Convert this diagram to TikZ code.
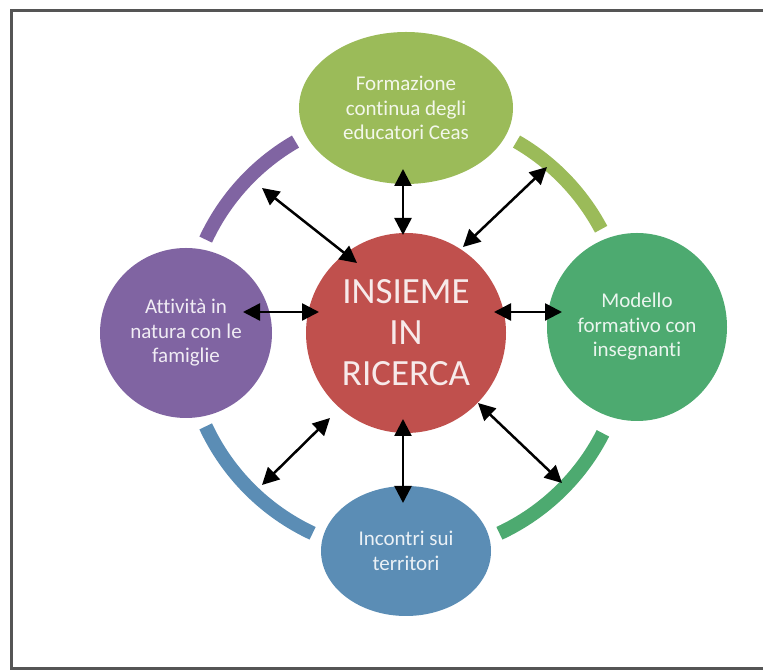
\documentclass[tikz,border=0pt]{standalone}
\usepackage{fontspec}
\setmainfont{Carlito}[Ligatures={NoCommon}]
\usetikzlibrary{arrows.meta,calc,shapes.geometric}
\definecolor{cgreenA}{HTML}{9BBB59}
\definecolor{cred}{HTML}{C0504D}
\definecolor{cpurple}{HTML}{8064A2}
\definecolor{cgreenB}{HTML}{4DAA70}
\definecolor{cblue}{HTML}{5B8DB5}
\definecolor{cframe}{HTML}{555555}
\tikzset{
  bubble/.style={ellipse, fill=#1, inner sep=0pt, align=center,
    text=white!88!#1, font=\fontsize{21}{24.5}\selectfont},
  ringarc/.style={line width=14pt, draw=#1},
  link/.style={<->, line width=2.5pt, black,
    >={Triangle[length=17pt,width=17pt]}},
}
\begin{document}
\begin{tikzpicture}[x=1pt,y=1pt]
\useasboundingbox (0,0) rectangle (763,671);
\draw[cframe, line width=3pt] (11,2) rectangle (780,660);
% ring arcs
\coordinate (rc) at (406,338);
\draw[ringarc=cgreenA] ($(rc)+(28:221)$) arc (28:60:221);
\draw[ringarc=cpurple] ($(rc)+(120:221)$) arc (120:155:221);
\draw[ringarc=cblue] ($(rc)+(205:221)$) arc (205:245:221);
\draw[ringarc=cgreenB] ($(rc)+(295:221)$) arc (295:333:221);
% nodes
\node[bubble=cgreenA, minimum width=214pt, minimum height=152pt] (top) at (406,563)
  {Formazione\\continua degli\\educatori Ceas};
\node[bubble=cpurple, minimum width=172pt, minimum height=170pt] (left) at (186,338)
  {Attività in\\natura con le\\famiglie};
\node[bubble=cgreenB, minimum width=180pt, minimum height=188pt] (right) at (637,344)
  {Modello\\formativo con\\insegnanti};
\node[bubble=cblue, minimum width=170pt, minimum height=130pt] (bottom) at (406,120)
  {Incontri sui\\territori};
\node[bubble=cred, minimum width=200pt, minimum height=200pt,
  font=\fontsize{37}{41}\selectfont] (center) at (406,338)
  {INSIEME\\IN\\RICERCA};
% arrow end points
\coordinate (a1) at (403,502); \coordinate (b1) at (403,436);
\coordinate (a2) at (243,359); \coordinate (b2) at (319,359);
\coordinate (a3) at (494,359); \coordinate (b3) at (562,359);
\coordinate (a4) at (262,483); \coordinate (b4) at (357,408);
\coordinate (a5) at (547,504); \coordinate (b5) at (463,424);
\coordinate (a6) at (330,253); \coordinate (b6) at (262,186);
\coordinate (a7) at (478,268); \coordinate (b7) at (562,188);
\coordinate (a8) at (403,252); \coordinate (b8) at (403,168);
\foreach \i in {1,...,8} { \draw[link] (a\i) -- (b\i); }
\end{tikzpicture}
\end{document}
